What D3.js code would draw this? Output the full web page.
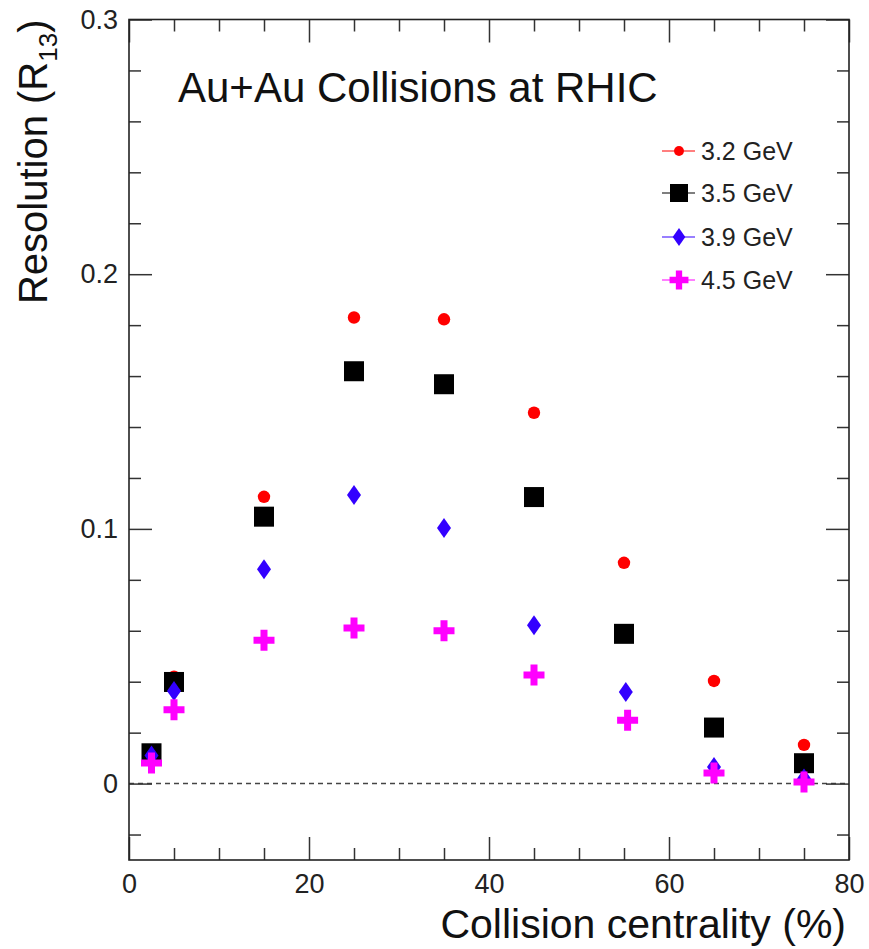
<!DOCTYPE html>
<html>
<head>
<meta charset="utf-8">
<script src="https://cdn.jsdelivr.net/npm/d3@7"></script>
<style>
  html, body { margin: 0; padding: 0; background: #fff; }
  svg { display: block; font-family: "Liberation Sans", Arial, Helvetica, sans-serif; }
</style>
</head>
<body>
<svg id="chart" width="869" height="949"></svg>
<script>
// ---- data ----
const seriesNames = ["3.2 GeV", "3.5 GeV", "3.9 GeV", "4.5 GeV"];
const x32 = [2.5, 5, 15, 25, 35, 45, 55, 65, 75];
const y32 = [0.012, 0.042, 0.1126, 0.183, 0.1823, 0.1456, 0.0867, 0.0403, 0.0152];
const x35 = [2.5, 5, 15, 25, 35, 45, 55, 65, 75];
const y35 = [0.0119, 0.0399, 0.1048, 0.1619, 0.1568, 0.1125, 0.0588, 0.022, 0.008];
const x39 = [2.5, 5, 15, 25, 35, 45, 55.2, 65, 75];
const y39 = [0.011, 0.0364, 0.0842, 0.1133, 0.1004, 0.0622, 0.036, 0.0065, 0.002];
const x45 = [2.5, 5, 15, 25, 35, 45, 55.4, 65, 75];
const y45 = [0.0081, 0.029, 0.0563, 0.0611, 0.060, 0.0426, 0.0249, 0.0042, 0.0006];
const xMajorTicks = [0, 20, 40, 60, 80];
const xMinorTicks = [5, 10, 15, 25, 30, 35, 45, 50, 55, 65, 70, 75];
const yMajorTicks = [0, 0.1, 0.2, 0.3];
const yMinorTicks = [-0.02, 0.02, 0.04, 0.06, 0.08, 0.12, 0.14, 0.16, 0.18, 0.22, 0.24, 0.26, 0.28];

const svg = d3.select("#chart");
const margin = {left: 129, right: 20, top: 19.5, bottom: 89};
const W = 869, H = 949;
const x = d3.scaleLinear().domain([0, 80]).range([margin.left, W - margin.right]);
const y = d3.scaleLinear().domain([-0.03, 0.3]).range([H - margin.bottom, margin.top]);

const tickColor = "#333";
const majorLen = 23, minorLen = 12;

// zero dashed line
svg.append("line")
  .attr("x1", x(0)).attr("x2", x(80))
  .attr("y1", y(0)).attr("y2", y(0))
  .attr("stroke", "#444").attr("stroke-width", 1.5)
  .attr("stroke-dasharray", "5,4");

function styleAxis(g, withLabels) {
  g.select(".domain").remove();
  g.selectAll(".tick line").attr("stroke", tickColor).attr("stroke-width", 1.5);
  if (withLabels) {
    g.selectAll(".tick text").attr("fill", "#222").attr("font-size", 27)
      .attr("font-family", "Liberation Sans, Arial, sans-serif");
  } else {
    g.selectAll(".tick text").remove();
  }
}

// bottom
svg.append("g").attr("transform", `translate(0,${y(-0.03)})`)
  .call(d3.axisBottom(x).tickValues(xMajorTicks).tickSize(-majorLen).tickPadding(14).tickFormat(d3.format("d")))
  .call(g => styleAxis(g, true));
svg.append("g").attr("transform", `translate(0,${y(-0.03)})`)
  .call(d3.axisBottom(x).tickValues(xMinorTicks).tickSize(-minorLen).tickFormat(""))
  .call(g => styleAxis(g, false));
// top
svg.append("g").attr("transform", `translate(0,${y(0.3)})`)
  .call(d3.axisTop(x).tickValues(xMajorTicks).tickSize(-majorLen).tickFormat(""))
  .call(g => styleAxis(g, false));
svg.append("g").attr("transform", `translate(0,${y(0.3)})`)
  .call(d3.axisTop(x).tickValues(xMinorTicks).tickSize(-minorLen).tickFormat(""))
  .call(g => styleAxis(g, false));
// left
svg.append("g").attr("transform", `translate(${x(0)},0)`)
  .call(d3.axisLeft(y).tickValues(yMajorTicks).tickSize(-majorLen).tickPadding(11)
        .tickFormat(d => d === 0 ? "0" : d3.format(".1f")(d)))
  .call(g => styleAxis(g, true));
svg.append("g").attr("transform", `translate(${x(0)},0)`)
  .call(d3.axisLeft(y).tickValues(yMinorTicks).tickSize(-minorLen).tickFormat(""))
  .call(g => styleAxis(g, false));
// right
svg.append("g").attr("transform", `translate(${x(80)},0)`)
  .call(d3.axisRight(y).tickValues(yMajorTicks).tickSize(-majorLen).tickFormat(""))
  .call(g => styleAxis(g, false));
svg.append("g").attr("transform", `translate(${x(80)},0)`)
  .call(d3.axisRight(y).tickValues(yMinorTicks).tickSize(-minorLen).tickFormat(""))
  .call(g => styleAxis(g, false));

// frame
svg.append("rect")
  .attr("x", x(0)).attr("y", y(0.3))
  .attr("width", x(80) - x(0)).attr("height", y(-0.03) - y(0.3))
  .attr("fill", "none").attr("stroke", "#222").attr("stroke-width", 1.6);

// marker shapes
function drawMarker(g, type, color, cx, cy, scale) {
  const s = scale || 1;
  if (type === "circle") {
    g.append("circle").attr("cx", cx).attr("cy", cy).attr("r", 6.2 * s).attr("fill", color);
  } else if (type === "square") {
    const a = 20 * s;
    g.append("rect").attr("x", cx - a / 2).attr("y", cy - a / 2).attr("width", a).attr("height", a)
      .attr("fill", color);
  } else if (type === "diamond") {
    const w = 7 * s, h = 10 * s;
    g.append("path").attr("d", `M${cx},${cy - h}L${cx + w},${cy}L${cx},${cy + h}L${cx - w},${cy}Z`)
      .attr("fill", color);
  } else if (type === "cross") {
    const a = 10.5 * s, t = 3.5 * s;
    g.append("path").attr("d",
      `M${cx - t},${cy - a}H${cx + t}V${cy - t}H${cx + a}V${cy + t}H${cx + t}V${cy + a}H${cx - t}V${cy + t}H${cx - a}V${cy - t}H${cx - t}Z`)
      .attr("fill", color);
  }
}

const series = [
  {name: seriesNames[0], xs: x32, ys: y32, type: "circle", color: "#ff0000"},
  {name: seriesNames[1], xs: x35, ys: y35, type: "square", color: "#000000"},
  {name: seriesNames[2], xs: x39, ys: y39, type: "diamond", color: "#3300ff"},
  {name: seriesNames[3], xs: x45, ys: y45, type: "cross", color: "#ff00ff"}
];

const pts = svg.append("g");
series.forEach(s => {
  const g = pts.append("g");
  s.xs.forEach((xv, i) => drawMarker(g, s.type, s.color, x(xv), y(s.ys[i])));
});

// legend
const leg = svg.append("g");
const legY = [151, 193, 237, 280];
series.forEach((s, i) => {
  leg.append("line").attr("x1", 662).attr("x2", 695).attr("y1", legY[i]).attr("y2", legY[i])
    .attr("stroke", s.color).attr("stroke-width", 1.2);
  drawMarker(leg, s.type, s.color, 679, legY[i], s.type === "circle" ? 0.8 : 0.9);
  leg.append("text").attr("x", 701).attr("y", legY[i]).attr("dy", "0.36em")
    .attr("font-size", 25).attr("fill", "#222").text(s.name);
});

// title
svg.append("text").attr("x", 178).attr("y", 102).attr("font-size", 42).attr("fill", "#111")
  .text("Au+Au Collisions at RHIC");

// axis titles
svg.append("text").attr("x", x(80) - 3).attr("y", 938).attr("text-anchor", "end")
  .attr("font-size", 41).attr("fill", "#111").text("Collision centrality (%)");

const yl = svg.append("text")
  .attr("transform", `translate(47,${y(0.3)}) rotate(-90)`)
  .attr("text-anchor", "end").attr("font-size", 40).attr("fill", "#111");
yl.append("tspan").text("Resolution (R");
yl.append("tspan").attr("font-size", 26).attr("dy", 10).text("13");
yl.append("tspan").attr("dy", -10).text(")");
</script>
</body>
</html>
